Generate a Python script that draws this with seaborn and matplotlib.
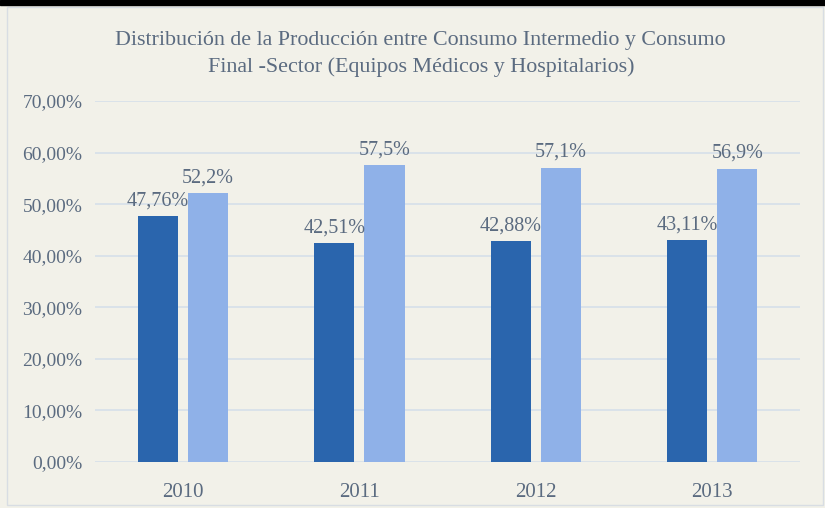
import pandas as pd
import matplotlib.pyplot as plt
import seaborn as sns
from matplotlib.patches import Rectangle

# Data
years = ["2010", "2011", "2012", "2013"]
intermedio = [47.76, 42.51, 42.88, 43.11]
final = [52.2, 57.5, 57.1, 56.9]
labels_intermedio = ["47,76%", "42,51%", "42,88%", "43,11%"]
labels_final = ["52,2%", "57,5%", "57,1%", "56,9%"]
yticks = [0, 10, 20, 30, 40, 50, 60, 70]

df = pd.DataFrame({
    "Año": years * 2,
    "Valor": intermedio + final,
    "Tipo": ["Consumo Intermedio"] * 4 + ["Consumo Final"] * 4,
})

bg = "#f2f1e9"
text_color = "#5b6b80"

sns.set_theme(style="white")
plt.rcParams["font.family"] = ["Liberation Serif", "DejaVu Serif"]

fig = plt.figure(figsize=(8.25, 5.08), dpi=100, facecolor=bg)
ax = fig.add_axes([0.115, 0.091, 0.855, 0.71])
ax.set_facecolor(bg)

sns.barplot(data=df, x="Año", y="Valor", hue="Tipo",
            palette=["#2a65ad", "#8fb1e8"], saturation=1,
            width=0.57, gap=0.2, linewidth=0, edgecolor="none",
            legend=False, ax=ax)

# data labels
for cont, labs in zip(ax.containers, [labels_intermedio, labels_final]):
    ax.bar_label(cont, labels=labs, padding=4, fontsize=14.5, color=text_color)

ax.set_ylim(0, 70)
ax.set_xlim(-0.5, 3.5)
ax.set_yticks(yticks)
ax.set_yticklabels([f"{v:.2f}%".replace(".", ",") for v in yticks])
ax.grid(axis="y", color="#d6dfea", linewidth=1.2)
ax.set_axisbelow(True)
for s in ax.spines.values():
    s.set_visible(False)
ax.tick_params(axis="both", length=0, labelsize=14, colors=text_color)
ax.tick_params(axis="x", pad=15, labelsize=15)
ax.tick_params(axis="y", pad=9)
ax.set_xlabel("")
ax.set_ylabel("")

fig.text(0.51, 0.893, "Distribución de la Producción entre Consumo Intermedio y Consumo\n"
         "Final -Sector (Equipos Médicos y Hospitalarios)",
         ha="center", va="center", fontsize=15.8, color=text_color, linespacing=1.5)

# frame like the screenshot
fig.patches.append(Rectangle((0, 0.99), 1, 0.01, transform=fig.transFigure,
                             color="black", zorder=5))
fig.patches.append(Rectangle((0.008, 0.006), 0.99, 0.98, transform=fig.transFigure,
                             fill=False, edgecolor="#d8dde3", linewidth=1))

fig.savefig("out.png", dpi=100, facecolor=bg)
